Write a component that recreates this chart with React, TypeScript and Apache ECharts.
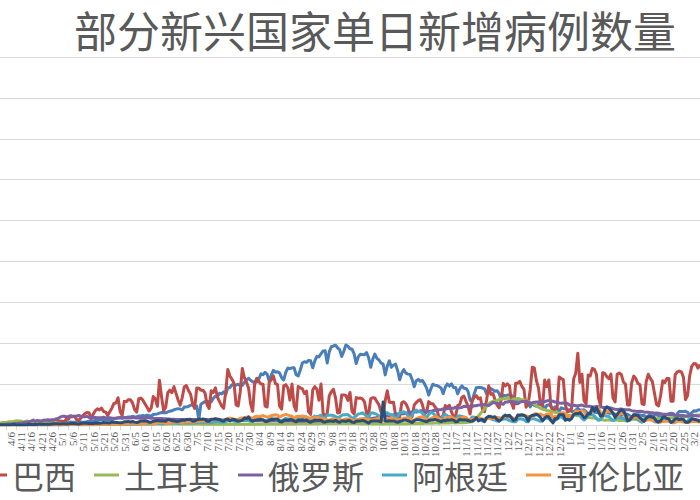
import React, { useEffect, useRef } from "react";
import * as echarts from "echarts";

// Daily new cases, in thousands, 2020-04-03 .. 2021-03-07 (339 days)
const START = { y: 2020, m: 3, d: 3 };
const DAY_COUNT = 339;

const seriesNames = ["印度", "巴西", "土耳其", "俄罗斯", "阿根廷", "哥伦比亚", "墨西哥"];
const seriesColors = ["#4a7ebb", "#be4b48", "#98b954", "#7d60a0", "#46aac5", "#f69240", "#2c4d75"];

const india = [
  0.5, 0.6, 0.6, 0.7, 0.5, 0.6, 0.8, 0.9, 1.0, 0.9, 0.8, 1.2, 1.1, 0.9, 1.3, 1.1, 1.6, 1.3, 1.5, 1.5, 1.7, 1.8, 1.8, 1.6, 1.6, 1.9, 1.7, 1.8,
  2.4, 2.8, 2.5, 3.9, 3.9, 2.7, 3.6, 3.3, 3.3, 4.2, 3.6, 3.6, 3.5, 3.7, 4.0, 4.8, 5.1, 4.6, 5.6, 5.6, 6.1, 6.6, 6.6, 6.8, 6.5, 6.4, 6.4, 7.5, 8.0, 8.4, 8.8,
  8.2, 8.9, 9.3, 9.9, 9.8, 10.4, 10.0, 9.9, 11.1, 11.0, 11.5, 11.0, 12.0, 11.5, 10.7, 12.9, 13.0, 13.6, 14.5, 15.4, 15.0, 14.9, 16.0, 16.9, 17.3, 18.6, 19.4, 20.0, 19.5, 18.6,
  22.0, 21.9, 22.8, 24.2, 24.8, 22.2, 23.1, 6.0, 25.5, 27.1, 28.6, 28.6, 28.5, 28.5, 32.7, 35.0, 34.9, 38.9, 38.0, 40.4, 37.1, 45.7, 45.7, 49.3, 48.7, 48.7, 49.9, 47.7, 48.5, 52.1, 55.1,
  57.1, 54.7, 52.9, 52.0, 52.5, 56.3, 62.5, 61.5, 64.4, 62.1, 53.6, 60.9, 66.9, 64.6, 65.0, 63.5, 57.9, 55.1, 64.5, 69.7, 68.9, 69.9, 70.0, 61.4, 60.0, 67.2, 75.8, 77.3, 76.5, 79.0, 78.5,
  69.9, 78.4, 83.9, 83.3, 87.1, 90.6, 90.8, 75.8, 89.7, 95.7, 96.6, 97.6, 94.4, 92.1, 83.8, 90.1, 97.9, 96.4, 93.3, 92.6, 86.9, 75.1, 83.3, 86.5, 86.1, 86.0, 88.6, 82.2, 70.6, 80.5,
  86.8, 81.5, 79.5, 75.8, 74.4, 61.3, 72.0, 78.5, 70.5, 73.3, 74.4, 66.7, 55.3, 63.5, 67.7, 63.4, 62.2, 61.9, 55.7, 46.8, 54.0, 55.8, 53.4, 54.4, 50.1, 45.1, 36.5, 43.9, 49.9, 48.6, 48.3,
  46.9, 45.2, 38.3, 46.3, 50.2, 47.6, 50.4, 45.7, 45.9, 38.1, 44.3, 47.9, 44.9, 44.7, 41.1, 30.5, 29.2, 38.6, 45.6, 46.0, 45.9, 45.2, 44.1, 37.9, 44.4, 44.5, 43.1, 41.3, 41.8, 38.8,
  31.1, 36.6, 35.6, 36.6, 36.7, 36.0, 32.9, 26.6, 32.1, 31.5, 29.4, 30.0, 30.3, 27.1, 22.1, 26.4, 24.0, 22.9, 25.2, 26.6, 24.3, 19.6, 23.9, 24.7, 23.1, 18.7, 22.3, 20.0, 16.4, 21.0, 20.0,
  20.0, 19.0, 18.2, 16.5, 16.4, 18.1, 20.3, 18.1, 18.2, 18.6, 16.3, 12.6, 15.9, 16.9, 15.6, 15.2, 15.1, 13.8, 10.1, 13.8, 15.2, 14.5, 14.3, 14.3, 13.2, 9.1, 12.7, 11.7, 18.9, 13.1, 13.1,
  11.4, 8.6, 12.9, 12.9, 12.4, 12.1, 11.7, 11.8, 9.1, 11.1, 12.9, 9.3, 12.1, 12.2, 11.6, 9.1, 11.6, 12.9, 13.2, 13.9, 14.3, 14.2, 10.6, 13.7, 16.7, 16.6, 16.6, 16.8,
  15.5, 12.3, 14.9, 17.4, 16.8, 18.3, 18.7,
];

const brazil = [
  1.1, 1.2, 0.9, 0.9, 1.7, 2.2, 1.9, 1.9, 1.1, 1.2, 1.3, 1.8, 3.1, 3.3, 2.1, 3.3, 1.9, 1.9, 2.3, 3.0, 3.7, 3.5, 5.5, 3.4, 4.6, 5.4, 6.3, 7.2,
  5.0, 4.9, 4.6, 4.1, 6.9, 6.9, 10.5, 10.2, 10.6, 6.8, 5.6, 8.6, 11.4, 13.9, 15.3, 14.9, 7.9, 13.1, 17.4, 19.9, 18.5, 20.8, 16.5, 15.8, 11.7, 16.3, 20.6, 26.4, 26.9, 33.3, 16.4,
  11.6, 28.9, 28.6, 30.9, 30.8, 27.1, 18.9, 15.7, 32.1, 32.9, 30.4, 25.9, 21.7, 17.1, 20.6, 34.9, 32.2, 22.8, 54.8, 34.7, 17.5, 21.4, 39.4, 42.7, 39.5, 46.9, 38.7, 30.5, 24.1, 33.8,
  46.7, 48.1, 42.2, 37.9, 26.1, 20.2, 45.3, 45.0, 42.6, 42.5, 39.0, 24.8, 20.3, 41.9, 39.9, 45.4, 34.2, 28.5, 23.5, 20.3, 41.0, 67.9, 59.9, 55.9, 51.1, 24.6, 23.3, 40.8, 69.1, 57.8, 52.4,
  45.4, 25.8, 16.6, 51.6, 57.2, 53.1, 50.2, 49.9, 23.0, 22.0, 52.2, 55.2, 60.1, 50.6, 49.3, 23.1, 19.4, 47.8, 49.3, 45.3, 30.4, 50.0, 23.4, 17.5, 47.1, 45.6, 44.2, 38.5, 41.4, 16.2, 12.9,
  42.7, 46.9, 43.8, 30.2, 50.2, 14.5, 10.3, 14.3, 35.8, 40.6, 43.7, 33.5, 14.8, 15.2, 36.7, 36.8, 35.8, 30.0, 39.8, 16.4, 13.4, 33.5, 32.8, 33.0, 31.9, 28.4, 14.3, 13.2, 32.1, 33.4,
  33.1, 28.4, 24.6, 15.7, 12.4, 29.8, 41.9, 27.7, 27.4, 27.7, 12.3, 9.0, 10.2, 27.2, 28.5, 26.0, 20.4, 11.9, 10.1, 24.5, 27.4, 30.0, 30.9, 24.6, 13.5, 15.7, 28.6, 26.1, 26.1, 22.3, 18.9,
  8.5, 9.3, 11.8, 23.8, 21.6, 24.0, 16.0, 10.1, 10.6, 23.9, 25.0, 33.9, 35.3, 29.1, 22.8, 13.4, 29.8, 34.0, 35.9, 32.0, 33.1, 18.6, 16.2, 31.1, 47.9, 37.6, 38.4, 31.1, 24.5, 21.0,
  31.1, 50.9, 47.8, 50.4, 48.0, 26.6, 20.4, 51.1, 51.1, 53.3, 47.0, 43.9, 21.8, 25.2, 42.9, 70.6, 69.8, 54.4, 45.4, 25.0, 23.5, 55.0, 46.7, 55.1, 22.7, 17.3, 18.8, 20.5, 58.7, 56.8, 55.6,
  24.6, 15.8, 17.3, 20.0, 56.6, 63.4, 87.8, 52.0, 62.1, 29.8, 25.8, 61.0, 60.0, 69.2, 68.0, 62.0, 33.0, 23.7, 64.0, 63.0, 59.1, 56.6, 62.3, 33.0, 28.3, 61.9, 63.5, 61.8, 52.7, 50.0, 24.6,
  24.6, 51.5, 59.8, 56.9, 50.9, 49.3, 26.0, 25.0, 52.7, 62.0, 57.0, 53.0, 39.0, 25.0, 23.4, 36.3, 54.0, 51.9, 57.0, 57.0, 29.0, 29.0, 61.4, 65.0, 66.0, 65.0, 58.5, 31.0,
  36.0, 59.9, 71.7, 75.1, 75.0, 69.6, 74.0,
];

const turkey = [
  2.5, 3.0, 3.1, 3.1, 3.9, 3.9, 4.1, 4.7, 5.1, 5.0, 4.8, 4.1, 4.3, 4.8, 4.4, 3.8, 4.0, 4.7, 4.6, 3.1, 3.1, 3.1, 2.9, 2.4, 2.1, 2.4, 2.9, 2.7,
  2.2, 2.2, 1.7, 1.6, 1.6, 2.0, 1.8, 1.8, 1.5, 1.5, 1.1, 1.7, 1.7, 1.6, 1.7, 1.7, 1.4, 1.4, 1.0, 1.0, 1.0, 0.95, 1.2, 1.1, 0.95, 1.0, 1.2, 1.2, 1.1, 1.1, 0.84,
  0.8, 0.99, 0.9, 0.99, 0.99, 0.9, 1.1, 1.2, 1.0, 1.2, 1.2, 1.2, 1.5, 1.6, 1.5, 1.4, 1.4, 1.3, 1.2, 1.2, 1.3, 1.2, 1.2, 1.5, 1.5, 1.5, 1.5, 1.4, 1.3, 1.3,
  1.2, 1.2, 1.2, 1.1, 1.2, 1.2, 1.1, 1.1, 1.0, 1.0, 1.0, 1.0, 1.0, 0.99, 0.98, 0.93, 0.93, 0.92, 0.92, 0.92, 0.93, 0.93, 0.94, 0.95, 0.96, 0.95, 0.96, 0.98, 0.97, 0.97, 0.98,
  0.99, 0.99, 0.98, 0.98, 0.98, 1.0, 1.0, 1.1, 1.1, 1.2, 1.2, 1.2, 1.2, 1.2, 1.2, 1.3, 1.3, 1.3, 1.2, 1.3, 1.3, 1.3, 1.3, 1.4, 1.4, 1.5, 1.5, 1.5, 1.5, 1.5, 1.5,
  1.5, 1.6, 1.6, 1.6, 1.7, 1.7, 1.7, 1.7, 1.7, 1.7, 1.7, 1.7, 1.7, 1.7, 1.7, 1.7, 1.7, 1.7, 1.7, 1.7, 1.7, 1.7, 1.7, 1.5, 1.5, 1.5, 1.5, 1.5, 1.4, 1.4,
  1.4, 1.4, 1.4, 1.3, 1.3, 1.5, 1.6, 1.6, 1.5, 1.5, 1.5, 1.5, 1.6, 1.6, 1.6, 1.6, 1.6, 1.7, 1.8, 1.8, 1.8, 1.9, 1.9, 1.9, 2.0, 2.1, 2.2, 2.3, 2.2, 2.3, 2.4,
  2.1, 2.3, 2.4, 2.4, 2.4, 2.4, 2.6, 2.6, 2.4, 2.6, 2.7, 2.7, 2.7, 2.9, 3.2, 3.6, 4.0, 5.5, 8.0, 11.0, 14.0, 17.0, 20.0, 23.0, 26.0, 28.0, 29.0, 29.5, 29.8, 31.2,
  31.9, 32.1, 32.4, 33.2, 30.4, 30.0, 32.0, 31.9, 32.1, 31.5, 30.6, 30.7, 30.0, 28.9, 27.4, 26.8, 25.8, 23.3, 21.9, 20.3, 19.4, 18.6, 17.8, 17.5, 16.9, 16.0, 15.6, 15.0, 14.6, 14.5, 13.6,
  12.5, 11.5, 11.5, 11.6, 12.5, 11.7, 11.3, 11.2, 10.7, 9.9, 9.6, 9.5, 8.9, 8.7, 8.4, 7.8, 7.2, 6.5, 6.3, 5.9, 6.2, 6.0, 5.9, 5.8, 6.0, 6.0, 5.6, 5.6, 5.5, 5.1, 5.0,
  6.1, 6.7, 7.3, 7.0, 7.2, 7.8, 7.6, 7.6, 7.7, 7.9, 7.9, 7.4, 7.1, 7.7, 7.9, 8.1, 8.2, 8.4, 8.4, 8.8, 8.8, 8.8, 9.0, 9.6, 9.5, 9.7, 10.0, 10.1,
  10.4, 9.9, 11.3, 11.9, 11.8, 12.1, 12.7,
];

const russia = [
  0.6, 0.6, 0.65, 0.95, 1.15, 1.2, 1.46, 1.79, 1.67, 2.19, 2.56, 2.77, 3.39, 3.45, 4.07, 4.79, 6.06, 4.27, 5.64, 5.24, 4.77, 5.85, 5.97, 6.36, 6.2, 6.41, 5.84, 7.1,
  7.93, 9.62, 10.63, 10.58, 10.1, 10.56, 11.23, 10.7, 10.8, 11.0, 11.66, 10.9, 10.03, 9.97, 10.6, 9.2, 9.7, 8.93, 9.26, 8.76, 8.85, 8.89, 9.43, 8.6, 8.95, 8.92, 8.34, 8.37, 8.57, 8.95, 9.27,
  9.0, 8.8, 8.5, 8.8, 8.7, 8.9, 8.98, 8.6, 8.6, 8.4, 8.8, 8.7, 8.8, 8.8, 8.2, 8.2, 7.8, 7.8, 7.97, 7.9, 7.7, 7.6, 7.4, 7.2, 7.1, 7.0, 6.85, 6.79, 6.7, 6.69,
  6.56, 6.76, 6.63, 6.74, 6.63, 6.61, 6.37, 6.56, 6.51, 6.63, 6.64, 6.6, 6.54, 6.25, 6.4, 6.4, 6.4, 6.2, 6.1, 6.0, 5.8, 5.86, 5.8, 5.8, 5.87, 5.77, 5.6, 5.5, 5.47, 5.5, 5.5,
  5.46, 5.4, 5.4, 5.2, 5.2, 5.2, 5.2, 5.2, 5.19, 5.1, 4.9, 5.1, 5.06, 5.06, 5.1, 4.9, 4.84, 4.7, 4.8, 4.8, 4.8, 4.9, 4.9, 4.7, 4.7, 4.7, 4.7, 4.7, 4.98, 4.99, 4.7,
  4.73, 4.73, 4.95, 5.0, 5.2, 5.2, 5.2, 5.1, 5.1, 5.4, 5.4, 5.4, 5.4, 5.5, 5.5, 5.7, 5.9, 5.9, 6.1, 6.2, 6.1, 6.2, 6.4, 6.6, 7.2, 7.5, 7.9, 8.1, 8.1, 8.2,
  8.5, 9.4, 10.5, 10.9, 10.9, 11.6, 11.1, 11.5, 12.1, 12.1, 13.6, 13.6, 13.9, 13.7, 13.8, 14.2, 15.2, 15.7, 15.98, 15.98, 15.9, 16.5, 17.3, 17.3, 17.3, 16.5, 16.4, 16.6, 17.4, 18.3, 18.1,
  18.6, 18.7, 19.8, 19.4, 19.8, 20.6, 20.5, 20.5, 21.8, 20.98, 20.97, 21.6, 22.8, 22.6, 22.6, 22.8, 22.4, 23.6, 23.6, 24.3, 24.6, 24.6, 25.2, 24.3, 23.7, 25.5, 27.5, 27.1, 26.3, 26.3,
  26.4, 25.3, 28.1, 28.2, 28.8, 29.0, 28.1, 26.1, 26.1, 27.9, 28.6, 28.6, 29.0, 28.1, 26.7, 27.0, 27.9, 28.2, 28.1, 28.1, 28.5, 28.5, 29.5, 29.9, 29.3, 29.0, 28.1, 28.1, 27.0, 26.5, 27.0,
  27.0, 26.3, 24.2, 24.0, 24.2, 23.5, 23.5, 24.0, 24.4, 23.3, 23.0, 22.9, 22.8, 22.2, 22.0, 22.6, 22.2, 22.6, 21.5, 21.3, 21.3, 21.1, 20.9, 20.0, 19.3, 19.1, 19.3, 19.5, 19.1, 18.7, 18.6,
  18.5, 17.6, 17.0, 16.7, 16.6, 16.7, 16.4, 15.9, 15.7, 15.5, 15.0, 15.0, 14.3, 14.7, 14.4, 13.8, 13.1, 13.0, 12.8, 12.8, 12.9, 12.6, 12.0, 11.7, 11.5, 11.8, 11.5, 11.0,
  11.3, 11.0, 11.5, 11.6, 11.4, 11.1, 10.9,
];

const argentina = [
  0.1, 0.08, 0.09, 0.08, 0.1, 0.1, 0.08, 0.15, 0.1, 0.1, 0.1, 0.13, 0.14, 0.14, 0.09, 0.1, 0.1, 0.09, 0.13, 0.13, 0.1, 0.1, 0.17, 0.1, 0.12, 0.14, 0.1, 0.13,
  0.1, 0.1, 0.13, 0.17, 0.16, 0.19, 0.24, 0.24, 0.16, 0.17, 0.16, 0.3, 0.3, 0.26, 0.34, 0.3, 0.36, 0.43, 0.47, 0.44, 0.47, 0.65, 0.72, 0.7, 0.55, 0.5, 0.67, 0.76, 0.82, 0.8, 0.8,
  0.56, 0.9, 0.95, 0.93, 0.93, 1.0, 0.79, 0.72, 1.14, 1.23, 1.39, 1.39, 1.28, 1.22, 1.21, 1.37, 1.39, 1.95, 2.06, 1.63, 1.43, 1.72, 2.15, 2.47, 2.41, 2.63, 2.88, 2.19, 2.26, 2.63,
  2.74, 2.84, 2.92, 2.51, 2.39, 2.6, 3.0, 3.6, 3.4, 3.2, 3.4, 2.7, 2.6, 3.1, 3.7, 4.3, 4.2, 3.8, 3.4, 3.4, 4.0, 5.4, 4.9, 5.5, 4.7, 4.0, 4.1, 5.9, 6.1, 5.9, 5.9,
  5.0, 4.4, 4.2, 6.0, 6.8, 7.1, 6.7, 5.5, 4.6, 5.8, 7.0, 7.6, 7.5, 6.5, 6.7, 5.2, 5.4, 6.8, 8.0, 7.2, 7.5, 7.5, 5.4, 5.4, 8.8, 8.8, 8.7, 10.1, 9.9, 7.4, 8.0,
  9.2, 10.9, 10.1, 10.9, 12.0, 8.9, 9.1, 12.3, 12.0, 12.0, 11.6, 10.4, 9.0, 10.0, 11.7, 12.6, 12.6, 12.7, 10.6, 8.4, 9.0, 11.2, 13.5, 13.9, 14.9, 13.0, 10.8, 9.3, 14.4, 14.9,
  14.0, 12.9, 11.3, 9.0, 10.8, 14.9, 15.1, 13.1, 12.7, 11.6, 8.0, 10.0, 15.3, 15.3, 16.2, 15.0, 11.2, 7.1, 12.9, 16.3, 18.3, 16.2, 16.3, 14.4, 10.8, 8.9, 13.0, 15.5, 14.4, 12.2, 10.0,
  7.9, 6.7, 11.3, 13.0, 11.2, 10.5, 9.1, 6.7, 6.8, 10.8, 11.2, 10.5, 9.5, 8.7, 5.5, 6.6, 9.9, 9.6, 8.5, 7.4, 6.6, 4.7, 5.2, 8.6, 8.9, 7.6, 6.7, 5.9, 4.9, 4.5,
  7.3, 7.6, 7.2, 6.9, 5.3, 4.6, 4.0, 3.9, 7.0, 7.7, 7.3, 6.4, 4.4, 4.0, 7.0, 7.7, 7.6, 6.6, 5.7, 4.5, 5.0, 8.1, 8.5, 8.0, 5.1, 3.6, 5.6, 7.3, 9.0, 11.0, 8.0,
  5.9, 7.9, 5.9, 8.7, 13.8, 13.9, 14.0, 12.0, 8.2, 6.1, 8.3, 12.7, 12.7, 12.6, 10.9, 8.0, 5.7, 6.8, 11.7, 11.6, 10.6, 10.3, 7.5, 5.4, 6.6, 9.5, 9.6, 8.0, 8.6, 6.4, 4.6,
  6.1, 8.0, 8.0, 7.5, 6.5, 4.6, 3.3, 5.9, 7.2, 7.8, 7.6, 6.2, 4.1, 3.7, 3.4, 4.8, 7.1, 7.8, 6.7, 5.7, 3.4, 4.3, 7.6, 7.5, 6.5, 6.4, 5.2, 3.6,
  4.8, 8.0, 8.1, 7.2, 6.0, 4.2, 6.6,
];

const colombia = [
  0.1, 0.07, 0.1, 0.1, 0.13, 0.18, 0.12, 0.1, 0.08, 0.07, 0.08, 0.14, 0.14, 0.13, 0.06, 0.1, 0.14, 0.1, 0.16, 0.2, 0.1, 0.2, 0.22, 0.13, 0.3, 0.25, 0.26, 0.3,
  0.26, 0.38, 0.23, 0.35, 0.37, 0.36, 0.46, 0.6, 0.59, 0.5, 0.5, 0.4, 0.4, 0.5, 0.6, 0.55, 0.5, 0.45, 0.5, 0.65, 0.7, 0.5, 0.8, 0.8, 0.9, 0.6, 0.9, 0.9, 1.0, 1.2, 0.8,
  1.0, 1.4, 1.2, 1.2, 1.4, 1.5, 1.4, 0.9, 1.5, 1.6, 1.5, 2.0, 2.4, 2.0, 1.6, 1.4, 1.9, 2.7, 2.9, 3.2, 3.0, 2.0, 2.0, 2.8, 3.5, 3.2, 3.8, 3.8, 3.0, 3.0,
  4.2, 4.0, 4.2, 3.8, 3.1, 3.6, 4.5, 4.6, 5.3, 4.9, 5.2, 3.8, 4.1, 6.2, 6.5, 7.4, 7.2, 7.1, 6.3, 5.6, 6.0, 8.2, 8.4, 8.0, 7.2, 6.8, 7.0, 8.3, 8.7, 8.9, 9.6,
  10.3, 9.0, 7.7, 10.2, 10.7, 9.9, 10.7, 11.5, 10.6, 9.5, 10.1, 11.5, 11.9, 12.6, 12.1, 9.5, 11.1, 12.1, 13.1, 12.1, 11.5, 10.8, 7.3, 10.0, 10.6, 10.5, 11.1, 10.4, 9.7, 8.6, 8.5,
  8.0, 9.6, 9.6, 9.0, 8.1, 7.9, 7.1, 6.0, 5.7, 7.0, 7.9, 6.3, 6.3, 6.9, 5.6, 6.2, 7.3, 7.4, 7.4, 6.2, 5.0, 5.5, 6.9, 7.6, 7.7, 8.0, 7.3, 6.5, 6.3, 6.4,
  6.9, 7.6, 8.1, 6.5, 5.5, 5.3, 6.9, 8.1, 8.6, 7.9, 7.0, 5.7, 6.4, 7.5, 8.2, 8.5, 8.6, 8.4, 6.2, 5.8, 7.5, 8.9, 9.5, 10.0, 9.0, 6.2, 6.8, 7.8, 9.1, 10.1, 10.1,
  7.8, 5.4, 6.0, 8.7, 8.7, 9.7, 9.5, 8.4, 6.6, 7.4, 8.4, 8.8, 9.8, 9.2, 6.9, 6.2, 7.0, 7.9, 8.7, 8.8, 8.1, 7.4, 7.6, 8.2, 8.5, 8.3, 8.2, 7.7, 9.3, 8.9,
  8.0, 9.5, 10.5, 9.8, 9.9, 9.6, 8.0, 8.0, 10.8, 12.3, 13.0, 11.2, 10.9, 10.4, 8.2, 10.5, 13.4, 13.9, 12.5, 13.5, 11.9, 11.7, 13.4, 13.1, 14.3, 8.1, 10.7, 9.6, 12.5, 14.8, 15.1,
  13.8, 10.2, 10.2, 11.0, 13.3, 17.0, 16.8, 16.0, 17.6, 16.8, 12.4, 13.1, 15.6, 16.9, 17.6, 19.8, 21.1, 15.2, 11.5, 14.0, 16.7, 16.8, 16.3, 14.1, 11.4, 10.5, 13.1, 14.4, 13.8, 10.8, 8.6,
  8.9, 7.7, 8.7, 9.9, 8.6, 7.2, 5.5, 4.8, 5.6, 6.7, 6.4, 5.9, 4.8, 4.2, 3.6, 3.5, 4.4, 4.7, 4.9, 4.1, 3.6, 2.8, 3.1, 4.6, 5.0, 4.1, 3.8, 3.2,
  3.2, 3.4, 4.5, 4.4, 4.4, 4.0, 3.8,
];

const mexico = [
  0.18, 0.22, 0.26, 0.23, 0.3, 0.4, 0.5, 0.55, 0.45, 0.43, 0.44, 0.4, 0.45, 0.5, 0.9, 0.7, 0.55, 0.62, 0.76, 1.2, 1.0, 1.0, 1.0, 0.9, 0.85, 1.2, 1.4, 1.5,
  1.5, 1.3, 1.4, 1.4, 1.1, 1.4, 1.9, 1.9, 1.9, 1.5, 1.3, 1.9, 1.99, 2.4, 2.1, 1.9, 1.9, 1.9, 2.4, 2.2, 2.2, 2.5, 3.0, 2.9, 2.8, 2.5, 3.5, 3.4, 3.2, 3.0, 2.9,
  2.8, 3.9, 3.9, 4.4, 3.6, 4.3, 3.5, 3.0, 3.7, 4.9, 4.8, 5.2, 4.7, 3.5, 3.4, 4.6, 4.9, 5.6, 5.0, 5.0, 5.0, 4.6, 6.3, 6.3, 5.4, 5.0, 4.6, 4.4, 5.0, 6.1,
  5.7, 6.7, 6.7, 6.9, 4.6, 5.0, 6.3, 6.9, 6.9, 7.3, 6.9, 4.5, 4.7, 7.1, 7.1, 7.6, 6.9, 6.7, 5.3, 4.7, 7.0, 7.0, 5.2, 6.4, 6.8, 5.6, 4.8, 5.0, 5.9, 8.5, 7.7,
  9.6, 6.1, 4.8, 5.9, 6.1, 6.6, 6.9, 6.5, 4.4, 4.4, 5.7, 7.0, 6.6, 7.4, 7.3, 4.3, 3.6, 5.4, 6.3, 5.8, 6.6, 6.5, 4.9, 3.9, 6.1, 5.9, 6.0, 5.8, 6.1, 4.1, 3.3,
  4.8, 6.0, 5.8, 5.7, 5.9, 3.8, 3.4, 4.6, 5.0, 4.8, 4.4, 5.6, 4.2, 3.3, 4.8, 4.8, 4.4, 5.4, 5.2, 3.5, 3.0, 4.7, 5.0, 4.9, 5.4, 4.8, 3.7, 2.3, 4.5, 5.0,
  4.9, 4.8, 4.7, 3.7, 28.1, 4.8, 4.6, 5.1, 5.0, 5.0, 4.0, 3.3, 4.3, 5.0, 6.0, 6.0, 5.2, 4.1, 3.0, 5.4, 6.3, 6.3, 6.2, 5.5, 4.8, 4.0, 5.5, 6.2, 6.0, 6.8, 5.9,
  5.0, 4.0, 5.4, 5.2, 6.2, 5.9, 6.3, 5.9, 4.0, 4.3, 7.0, 6.0, 6.0, 6.1, 5.5, 4.5, 4.8, 6.2, 9.0, 5.0, 6.4, 6.6, 4.2, 9.0, 10.8, 10.3, 9.4, 10.0, 6.6, 5.0,
  6.4, 10.5, 12.1, 10.9, 11.9, 8.6, 5.6, 6.5, 12.2, 11.9, 12.3, 12.0, 9.9, 5.1, 10.4, 12.0, 11.9, 12.9, 11.7, 9.2, 5.2, 8.4, 10.5, 10.2, 5.9, 2.5, 7.8, 7.5, 12.4, 12.4, 12.4,
  6.0, 7.0, 6.0, 7.8, 12.8, 14.0, 13.7, 15.0, 12.8, 8.8, 10.0, 14.1, 13.7, 21.4, 17.3, 21.4, 16.2, 10.9, 11.6, 18.7, 22.3, 20.5, 18.0, 14.4, 9.3, 13.0, 16.4, 18.7, 17.0, 12.9, 5.4,
  6.0, 9.2, 12.2, 12.0, 11.8, 8.6, 6.5, 4.6, 8.2, 10.1, 10.0, 9.7, 8.4, 4.6, 3.7, 5.0, 9.3, 9.7, 8.0, 7.1, 3.1, 4.5, 7.5, 7.8, 6.6, 7.3, 7.0, 3.5,
  3.3, 4.6, 7.5, 7.1, 6.5, 5.9, 3.6,
];

const seriesValues = [india, brazil, turkey, russia, argentina, colombia, mexico];

const Y_MAX = 450;
const Y_STEP = 50;
const LABEL_FIRST = 3; // 4/6
const LABEL_EVERY = 5;

function buildDates(): string[] {
  const out: string[] = [];
  const d = new Date(START.y, START.m, START.d);
  for (let i = 0; i < DAY_COUNT; i++) {
    out.push(`${d.getMonth() + 1}/${d.getDate()}`);
    d.setDate(d.getDate() + 1);
  }
  return out;
}

export default function App() {
  const ref = useRef<HTMLDivElement>(null);
  useEffect(() => {
    if (!ref.current) return;
    const chart = echarts.init(ref.current, undefined, { renderer: "svg" });
    const dates = buildDates();
    // index 0 is included only as a sacrificial first label/tick, hidden by showMinLabel:false
    const showIdx = (i: number) =>
      i === 0 || (i >= LABEL_FIRST && (i - LABEL_FIRST) % LABEL_EVERY === 0);
    chart.setOption({
      animation: false,
      backgroundColor: "#ffffff",
      title: {
        text: "部分新兴国家单日新增病例数量",
        left: 69,
        top: 2,
        padding: [5, 0, 5, 5],
        textStyle: {
          fontFamily: "Noto Sans CJK SC",
          fontSize: 43,
          fontWeight: "normal",
          color: "#595959",
        },
      },
      legend: {
        data: seriesNames,
        left: -135,
        top: 454,
        width: 1400,
        icon: "rect",
        itemWidth: 25,
        itemHeight: 3,
        itemGap: 18,
        textStyle: {
          fontFamily: "Noto Sans CJK SC",
          fontSize: 32,
          color: "#595959",
        },
      },
      grid: { left: 0, right: 0, top: 57, bottom: 75 },
      xAxis: {
        type: "category",
        data: dates,
        boundaryGap: false,
        axisLine: { lineStyle: { color: "#d9d9d9", width: 1 } },
        axisTick: {
          interval: (i: number) => showIdx(i),
          length: 5,
          lineStyle: { color: "#d9d9d9" },
        },
        axisLabel: {
          interval: (i: number) => showIdx(i),
          showMinLabel: false,
          rotate: 90,
          verticalAlign: "top",
          margin: 7,
          fontFamily: "Liberation Serif",
          fontSize: 11,
          lineHeight: 9,
          color: "#595959",
        },
        splitLine: { show: false },
      },
      yAxis: {
        type: "value",
        min: 0,
        max: Y_MAX,
        interval: Y_STEP,
        axisLabel: { show: false },
        axisLine: { show: false },
        axisTick: { show: false },
        splitLine: { lineStyle: { color: "#d9d9d9", width: 1 } },
      },
      series: seriesNames.map((name, k) => ({
        name,
        type: "line",
        data: seriesValues[k],
        showSymbol: false,
        symbol: "none",
        silent: true,
        color: seriesColors[k],
        lineStyle: { width: 3, color: seriesColors[k], join: "round" },
      })),
    });
    return () => chart.dispose();
  }, []);
  return (
    <div
      ref={ref}
      style={{ position: "fixed", left: 0, top: 0, width: 700, height: 500 }}
    />
  );
}
